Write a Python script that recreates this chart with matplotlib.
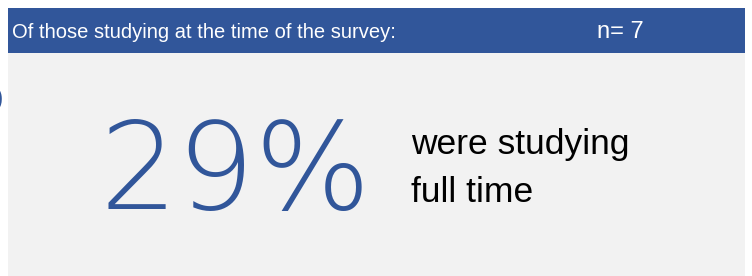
import matplotlib
matplotlib.use('Agg')
import matplotlib.pyplot as plt
from matplotlib.patches import Rectangle

# values shown on the card
header = 'Of those studying at the time of the survey:'
n_resp = 7
share = 29
label_lines = ['were studying', 'full time']

blue = '#31569a'
panel = '#f2f2f2'

fig = plt.figure(figsize=(7.52, 2.76), dpi=100)
ax = fig.add_axes([0, 0, 1, 1])
ax.set_xlim(0, 752)
ax.set_ylim(276, 0)
ax.axis('off')

# header bar and grey panel
ax.add_patch(Rectangle((8, 8), 737, 45, color=blue, lw=0))
ax.add_patch(Rectangle((8, 53), 737, 230, color=panel, lw=0))

narrow = ['Liberation Sans Narrow', 'Liberation Sans', 'DejaVu Sans']
ax.text(12, 38, header, color='white', fontsize=14.5, family=narrow,
        va='baseline', ha='left')
ax.text(597, 38, 'n= %d' % n_resp, color='white', fontsize=17, family=narrow,
        va='baseline', ha='left')

# big percentage
ax.text(99, 209, '%d%%' % share, color=blue, fontsize=88, family='DejaVu Sans',
        fontweight=200, ha='left', va='baseline')

# piece of the neighbouring glyph at the left edge
ax.text(4, 114, 'o', color=blue, fontsize=38, family='Open Sans',
        fontweight='normal', ha='right', va='baseline')

ax.text(411, 154, label_lines[0], color='black', fontsize=25.5,
        family='Liberation Sans', ha='left', va='baseline')
ax.text(411, 202, label_lines[1], color='black', fontsize=25.5,
        family='Liberation Sans', ha='left', va='baseline')

fig.savefig('out.png', dpi=100)
